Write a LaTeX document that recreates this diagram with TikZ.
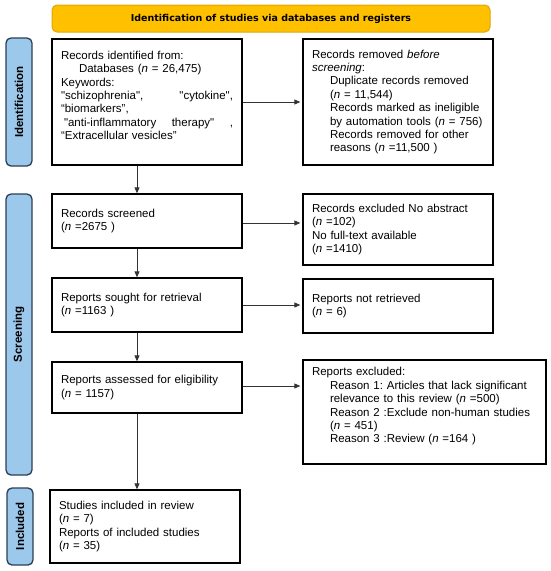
\documentclass[tikz,border=0pt]{standalone}
\usepackage{fontspec}
\setmainfont{Liberation Sans}[Ligatures=TeXOff]
\newfontfamily\bannerfont{DejaVu Sans}
\usetikzlibrary{arrows.meta}
\definecolor{bannerfill}{HTML}{FFC000}
\definecolor{bannerline}{HTML}{E3A600}
\definecolor{sidefill}{HTML}{9CC8EC}
\definecolor{sideline}{HTML}{2B3E55}
\newcommand{\subind}{\hspace*{18pt}}
\newcommand{\nval}{\textit{n}}
\frenchspacing
\begin{document}
\begin{tikzpicture}[x=1pt, y=-1pt,
		every node/.append style={font=\fontsize{11.5}{13.4}\selectfont},
		stagebox/.style={draw=black, line width=1.3pt, fill=white, align=left, inner xsep=9pt, inner ysep=0pt},
		sidebox/.style={draw=sideline, fill=sidefill, line width=1.3pt, rounded corners=5pt, rotate=90,
			minimum height=26pt, inner sep=0pt, font=\fontsize{11.5}{13}\selectfont\bfseries},
		flow/.style={-{Triangle[length=6pt, width=5pt]}, draw=black!80, line width=0.8pt}]
	\useasboundingbox (0, 0) rectangle (550, 571);
	% banner and stage labels
	\node[draw=bannerline, fill=bannerfill, line width=1pt, rounded corners=5pt, minimum width=438pt,
		minimum height=27pt, inner sep=0pt, font=\bannerfont\fontsize{9.5}{11}\selectfont\bfseries]
		(banner) at (271, 18.5) {Identification of studies via databases and registers};
	\node[sidebox, minimum width=128pt] (sideident) at (19, 102) {Identification};
	\node[sidebox, minimum width=281pt] (sidescreen) at (19, 334.5) {Screening};
	\node[sidebox, minimum width=77pt] (sideincl) at (20, 526.5) {Included};
	% left column
	\node[stagebox, text width=172pt, minimum height=126pt] (identified) at (147, 102) {Records identified from:\\
		\subind Databases (\nval{} = 26,475)\\
		Keywords:\\
		"schizophrenia",\hfill "cytokine",\\
		“biomarkers”,\\
		\hspace*{3pt}"anti-inflammatory\hfill therapy"\hfill ,\\
		“Extracellular vesicles”\\ \mbox{}};
	\node[stagebox, text width=172pt, minimum height=54pt] (screened) at (147, 221) {Records screened\\
		(\nval{} =2675 )};
	\node[stagebox, text width=172pt, minimum height=54pt] (sought) at (147, 305) {Reports sought for retrieval\\
		(\nval{} =1163 )};
	\node[stagebox, text width=172pt, minimum height=51pt] (assessed) at (147, 387.5) {Reports assessed for eligibility\\
		(\nval{} = 1157)};
	\node[stagebox, text width=172pt, minimum height=73pt] (included) at (145, 526.5) {Studies included in review\\
		(\nval{} = 7)\\
		Reports of included studies\\
		(\nval{} = 35)};
	% right column
	\node[stagebox, text width=172pt, minimum height=126pt] (removed) at (398, 102) {Records removed \textit{before}\\
		\textit{screening}:\\
		\subind Duplicate records removed\\
		\subind (\nval{} = 11,544)\\
		\subind Records marked as ineligible\\
		\subind by automation tools (\nval{} = 756)\\
		\subind Records removed for other\\
		\subind reasons (\nval{} =11,500 )};
	\node[stagebox, text width=172pt, minimum height=71pt] (excluded) at (398, 229.5) {Records excluded No abstract\\
		(\nval{} =102)\\
		No full-text available\\
		(\nval{} =1410)};
	\node[stagebox, text width=172pt, minimum height=54pt] (notretrieved) at (398, 306) {Reports not retrieved\\
		(\nval{} = 6)};
	\node[stagebox, text width=225pt, minimum height=104pt] (reasons) at (424.5, 412) {Reports excluded:\\
		\subind Reason 1: Articles that lack significant\\
		\subind relevance to this review (\nval{} =500)\\
		\subind Reason 2 :Exclude non-human studies\\
		\subind (\nval{} = 451)\\
		\subind Reason 3 :Review (\nval{} =164 )\\ \mbox{}};
	% connectors
	\coordinate (spine) at (137, 0);
	\draw[flow] (identified.south -| spine) -- (screened.north -| spine);
	\draw[flow] (screened.south -| spine) -- (sought.north -| spine);
	\draw[flow] (sought.south -| spine) -- (assessed.north -| spine);
	\draw[flow] (assessed.south -| spine) -- (included.north -| spine);
	\draw[flow, shorten >=2pt] (identified.east) -- (identified.east -| removed.west);
	\draw[flow, shorten >=2pt] ([yshift=-2pt]screened.east) -- ([yshift=-2pt]screened.east -| excluded.west);
	\draw[flow, shorten >=2pt] (sought.east) -- (sought.east -| notretrieved.west);
	\draw[flow, shorten >=2pt] ([yshift=1.5pt]assessed.east) -- ([yshift=1.5pt]assessed.east -| reasons.west);
\end{tikzpicture}
\end{document}
